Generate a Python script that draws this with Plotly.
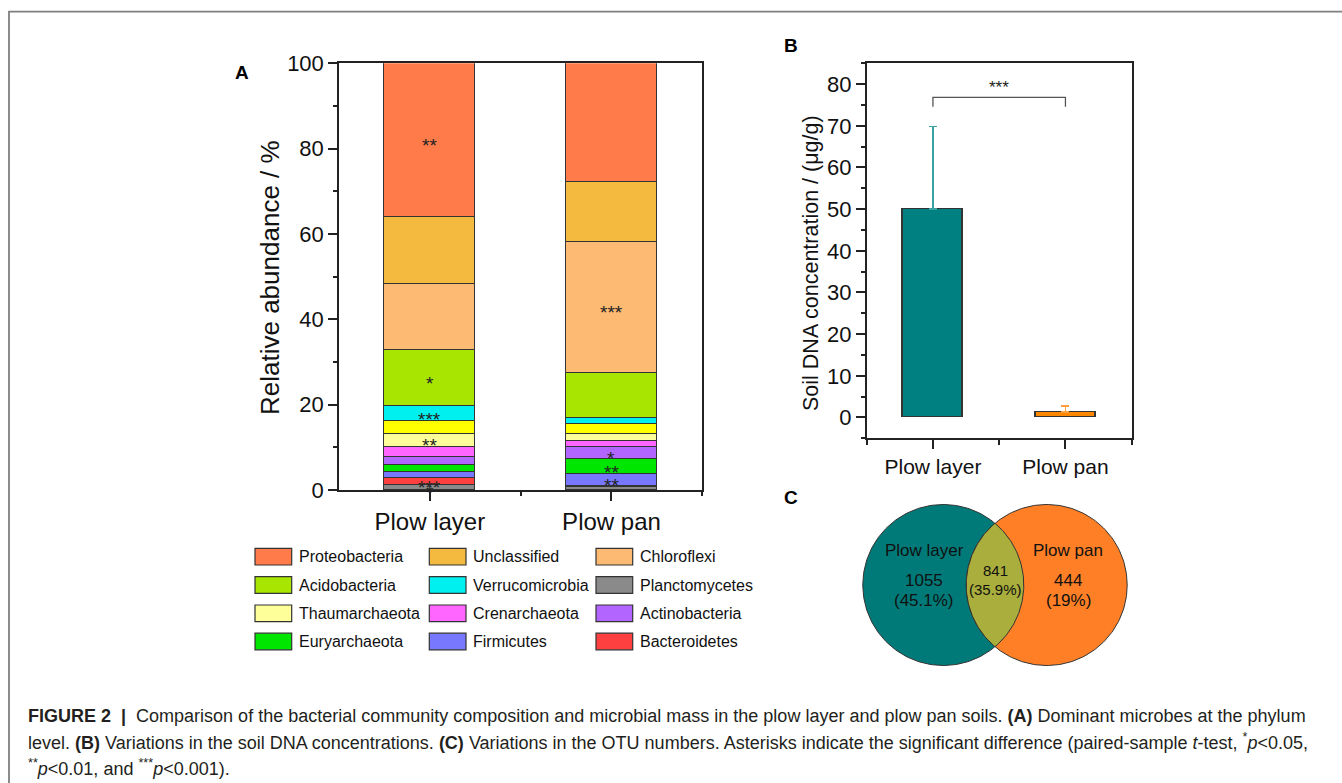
import numpy as np
import plotly.graph_objects as go

# ---------------- data ----------------
samples = ["Plow layer", "Plow pan"]

# stack order, bottom -> top
phyla = ["Planctomycetes", "Bacteroidetes", "Firmicutes", "Euryarchaeota",
         "Actinobacteria", "Crenarchaeota", "Thaumarchaeota", "Others",
         "Verrucomicrobia", "Acidobacteria", "Chloroflexi", "Unclassified",
         "Proteobacteria"]
abund_plow_layer = [1.0, 1.7, 1.4, 1.8, 1.7, 2.35, 3.15, 2.95, 3.5, 13.25, 15.5, 15.6, 36.1]
abund_plow_pan = [0.55, 0.4, 2.65, 3.5, 2.8, 1.4, 1.75, 2.35, 1.3, 10.7, 30.75, 13.9, 27.95]
sig_plow_layer = ["*", "***", "", "", "", "", "**", "", "***", "*", "", "", "**"]
sig_plow_pan = ["", "", "**", "**", "*", "", "", "", "", "", "***", "", ""]

legend_order = ["Proteobacteria", "Unclassified", "Chloroflexi",
                "Acidobacteria", "Verrucomicrobia", "Planctomycetes",
                "Thaumarchaeota", "Crenarchaeota", "Actinobacteria",
                "Euryarchaeota", "Firmicutes", "Bacteroidetes"]

dna_conc = [50.0, 1.3]
dna_err = [19.8, 1.4]
dna_sig = "***"

otu_layer_only = 1055
otu_shared = 841
otu_pan_only = 444

# ---------------- styles ----------------
FONT = "Liberation Sans, Arial, sans-serif"
W, H = 1342, 783
colors = {
    "Proteobacteria": "#FF7B4A", "Unclassified": "#F4BA40", "Chloroflexi": "#FDBA72",
    "Acidobacteria": "#A8E500", "Verrucomicrobia": "#00F0F0", "Planctomycetes": "#8A8A8A",
    "Thaumarchaeota": "#FFFF99", "Crenarchaeota": "#FF66FF", "Actinobacteria": "#B266FF",
    "Euryarchaeota": "#00E600", "Firmicutes": "#7878FF", "Bacteroidetes": "#FF4040",
    "Others": "#FFFF00",
}
dna_colors = ["#008080", "#FF8800"]
dna_err_colors = ["#3AA3A3", "#FF9E3D"]
venn_colors = ["#007A78", "#FF7F26", "#A9AE3C"]


def px(x):
    return x / W


def py(y):
    return 1 - y / H


fig = go.Figure()

# ---------------- panel A: stacked bars ----------------
xpos = [i + 1 for i in range(len(samples))]
for i, ph in enumerate(phyla):
    fig.add_trace(go.Bar(
        x=xpos, y=[abund_plow_layer[i], abund_plow_pan[i]], name=ph,
        width=0.5, marker=dict(color=colors[ph], line=dict(color="#333333", width=1.3)),
        xaxis="x", yaxis="y", showlegend=False))

annotations = []
STAR = dict(family=FONT, size=19, color="#222")
for vals, sigs, xp in [(abund_plow_layer, sig_plow_layer, xpos[0]),
                       (abund_plow_pan, sig_plow_pan, xpos[1])]:
    cum = np.cumsum([0] + vals)
    for i, s in enumerate(sigs):
        if s:
            annotations.append(dict(x=xp, y=(cum[i] + cum[i + 1]) / 2, xref="x", yref="y",
                                    text=s, showarrow=False, yshift=-5,
                                    xanchor="center", yanchor="middle", font=STAR))

# ---------------- panel B: DNA concentration ----------------
for i, s in enumerate(samples):
    fig.add_trace(go.Bar(
        x=[xpos[i]], y=[dna_conc[i]], name=s, width=0.45,
        marker=dict(color=dna_colors[i], line=dict(color="#333333", width=1.3)),
        error_y=dict(type="data", array=[dna_err[i]], arrayminus=[0], symmetric=False,
                     color=dna_err_colors[i], thickness=1.5, width=4),
        xaxis="x2", yaxis="y2", showlegend=False))

bracket_y = max(d + e for d, e in zip(dna_conc, dna_err)) + 7
shapes = [dict(type="path", xref="x2", yref="y2",
               path=f"M {xpos[0]},{bracket_y - 2.2} L {xpos[0]},{bracket_y} "
                    f"L {xpos[1]},{bracket_y} L {xpos[1]},{bracket_y - 2.2}",
               line=dict(color="#555555", width=1.3))]
annotations.append(dict(x=(xpos[0] + xpos[1]) / 2, y=bracket_y + 3.3, xref="x2", yref="y2",
                        text=dna_sig, showarrow=False, yshift=-4,
                        xanchor="center", yanchor="middle",
                        font=dict(family=FONT, size=17, color="#222")))

# ---------------- panel C: Venn ----------------
r = 80.5
c1 = (943.3, 585.0)
c2 = (1046.7, 585.0)
t = np.linspace(0, 2 * np.pi, 240)
for c, col in zip([c1, c2], venn_colors[:2]):
    fig.add_trace(go.Scatter(x=c[0] + r * np.cos(t), y=c[1] + r * np.sin(t), mode="lines",
                             fill="toself", fillcolor=col, line=dict(color="#333", width=1),
                             xaxis="x3", yaxis="y3", showlegend=False, hoverinfo="skip"))
d = c2[0] - c1[0]
a = np.arccos((d / 2) / r)
th1 = np.linspace(-a, a, 80)
th2 = np.linspace(np.pi - a, np.pi + a, 80)
lx = np.concatenate([c1[0] + r * np.cos(th1), c2[0] + r * np.cos(th2)])
ly = np.concatenate([c1[1] + r * np.sin(th1), c2[1] + r * np.sin(th2)])
fig.add_trace(go.Scatter(x=lx, y=ly, mode="lines", fill="toself", fillcolor=venn_colors[2],
                         line=dict(color="#333", width=1), xaxis="x3", yaxis="y3",
                         showlegend=False, hoverinfo="skip"))

total = otu_layer_only + otu_shared + otu_pan_only


def pct(v):
    return f"{100 * v / total:.1f}".rstrip("0").rstrip(".") + "%"


venn_txt = [
    (924, 550, samples[0], 17), (924, 580, str(otu_layer_only), 17),
    (924, 600, f"({pct(otu_layer_only)})", 17),
    (995, 570, str(otu_shared), 15), (995, 589, f"({pct(otu_shared)})", 15),
    (1068, 550, samples[1], 17), (1068, 580, str(otu_pan_only), 17),
    (1068, 600, f"({pct(otu_pan_only)})", 17),
]
for x, y, s, fs in venn_txt:
    annotations.append(dict(x=x, y=y, xref="x3", yref="y3", text=s, showarrow=False,
                            xanchor="center", yanchor="middle",
                            font=dict(family=FONT, size=fs, color="#111")))

# ---------------- manual legend ----------------
col_box_x = [255, 429.3, 596]
row_y = [556.7, 585, 613.3, 641.5]
for k, ph in enumerate(legend_order):
    rr, cc = divmod(k, 3)
    x0 = col_box_x[cc]
    yc = row_y[rr]
    shapes.append(dict(type="rect", xref="paper", yref="paper",
                       x0=px(x0), x1=px(x0 + 36.7), y0=py(yc + 8.3), y1=py(yc - 8.3),
                       fillcolor=colors[ph], line=dict(color="#333", width=1.2)))
    annotations.append(dict(x=px(x0 + 41.5), y=py(yc), xref="paper", yref="paper",
                            text=ph, showarrow=False, xanchor="left", yanchor="middle",
                            font=dict(family=FONT, size=16, color="#111")))

# ---------------- titles, labels, caption ----------------
def lab(x, y, text, size, angle=0, color="#111"):
    return dict(x=px(x), y=py(y), xref="paper", yref="paper", text=text, textangle=angle,
                showarrow=False, xanchor="center", yanchor="middle",
                font=dict(family=FONT, size=size, color=color))


annotations += [
    lab(270, 278, "Relative abundance / %", 26, -90),
    lab(811, 263, "Soil DNA concentration / (μg/g)", 21.5, -90),
    lab(242, 72, "<b>A</b>", 19, color="#000"),
    lab(791, 45, "<b>B</b>", 19, color="#000"),
    lab(791, 497, "<b>C</b>", 19, color="#000"),
]
caption = [
    "<b>FIGURE 2</b>  <b>|</b>  Comparison of the bacterial community composition and microbial "
    "mass in the plow layer and plow pan soils. <b>(A)</b> Dominant microbes at the phylum",
    "level. <b>(B)</b> Variations in the soil DNA concentrations. <b>(C)</b> Variations in the "
    "OTU numbers. Asterisks indicate the significant difference (paired-sample <i>t</i>-test, "
    "<sup>*</sup><i>p</i>&lt;0.05,",
    "<sup>**</sup><i>p</i>&lt;0.01, and <sup>***</sup><i>p</i>&lt;0.001).",
]
for j, line in enumerate(caption):
    annotations.append(dict(x=px(26), y=py(716 + 25.5 * j), xref="paper", yref="paper",
                            text=line, showarrow=False, xanchor="left", yanchor="middle",
                            font=dict(family=FONT, size=18, color="#231F20")))

# outer frame (left + top)
shapes.append(dict(type="path", xref="paper", yref="paper",
                   path=f"M {px(9)},{py(783)} L {px(9)},{py(11.7)} L {px(1342)},{py(11.7)}",
                   line=dict(color="#7F7F7F", width=1.8)))

axis_common = dict(showgrid=False, zeroline=False, showline=True, linecolor="#222",
                   linewidth=1.5, mirror=True, ticks="outside", tickcolor="#222",
                   tickwidth=1.5, ticklen=9, automargin=False)

fig.update_layout(
    width=W, height=H, margin=dict(l=0, r=0, t=0, b=0, autoexpand=False),
    paper_bgcolor="white", plot_bgcolor="white", barmode="stack", bargap=0,
    font=dict(family=FONT, color="#111"), showlegend=False,
    xaxis=dict(domain=[px(339), px(702.3)], range=[0.5, 2.5], tickvals=xpos, ticktext=samples,
               tickfont=dict(size=24), anchor="y",
               minor=dict(tickvals=[1.5, 2.5], ticklen=4, ticks="outside",
                          tickcolor="#222", tickwidth=1.5), **axis_common),
    yaxis=dict(domain=[py(490), py(63.3)], range=[0, 100], tickvals=list(range(0, 101, 20)),
               tickfont=dict(size=22), anchor="x",
               minor=dict(tickvals=list(range(10, 100, 20)), ticklen=4, ticks="outside",
                          tickcolor="#222", tickwidth=1.5), **axis_common),
    xaxis2=dict(domain=[px(866.7), px(1131.7)], range=[0.5, 2.5], tickvals=xpos,
                ticktext=samples, tickfont=dict(size=21), anchor="y2",
                minor=dict(tickvals=[0.5, 1.5, 2.5], ticklen=5, ticks="outside",
                           tickcolor="#222", tickwidth=1.5), **axis_common),
    yaxis2=dict(domain=[py(438.3), py(63.3)], range=[-5, 85], tickvals=list(range(0, 81, 10)),
                tickfont=dict(size=22), anchor="x2",
                minor=dict(tickvals=list(range(-5, 86, 10)), ticklen=4, ticks="outside",
                           tickcolor="#222", tickwidth=1.5), **axis_common),
    xaxis3=dict(domain=[px(840), px(1150)], range=[840, 1150], visible=False, anchor="y3"),
    yaxis3=dict(domain=[py(675), py(495)], range=[675, 495], visible=False, anchor="x3"),
    shapes=shapes, annotations=annotations,
)

fig.write_html("out.html")
